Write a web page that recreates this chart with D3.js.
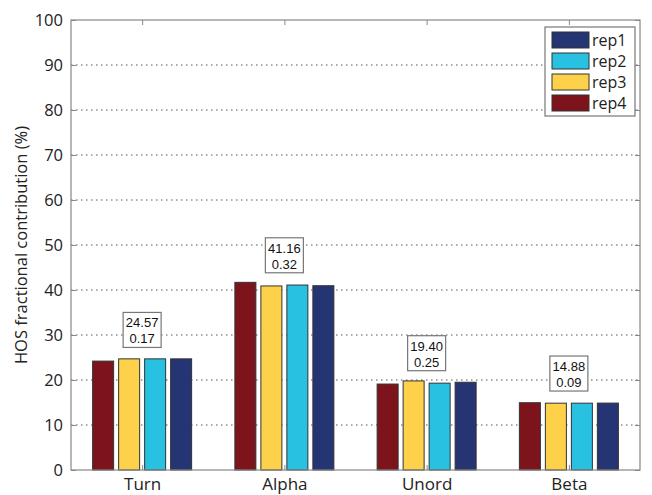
<!DOCTYPE html>
<html><head><meta charset="utf-8">
<script src="https://cdn.jsdelivr.net/npm/d3@7"></script>
<style>body{margin:0;background:#fff}</style>
</head><body>
<svg id="c" width="652" height="495"></svg>
<script>
const categories = ["Turn", "Alpha", "Unord", "Beta"];
const series = ["rep4", "rep3", "rep2", "rep1"];
const rep4 = [24.2, 41.7, 19.1, 14.95];
const rep3 = [24.7, 40.9, 19.8, 14.85];
const rep2 = [24.7, 41.1, 19.3, 14.85];
const rep1 = [24.7, 40.95, 19.5, 14.87];
const means = ["24.57", "41.16", "19.40", "14.88"];
const stds = ["0.17", "0.32", "0.25", "0.09"];
const yTicks = [0, 10, 20, 30, 40, 50, 60, 70, 80, 90, 100];
const legendOrder = ["rep1", "rep2", "rep3", "rep4"];
const colors = {rep1: "#253574", rep2: "#29c1e1", rep3: "#fdd24a", rep4: "#7e141b"};
const values = {rep1, rep2, rep3, rep4};

const svg = d3.select("#c");
const L = 71, R = 640, T = 20, B = 470;
const x = d3.scaleLinear().domain([0.5, 4.5]).range([L, R]);
const y = d3.scaleLinear().domain([0, 100]).range([B, T]);
const font = "'Open Sans', 'DejaVu Sans', sans-serif";

// gridlines
svg.append("g").selectAll("line").data(yTicks.filter(t => t > 0 && t < 100)).join("line")
  .attr("x1", L).attr("x2", R).attr("y1", d => y(d)).attr("y2", d => y(d))
  .attr("stroke", "#555").attr("stroke-width", 1).attr("stroke-dasharray", "1.5,3.5");

// bars
const step = 26, bw = 21;
const off = d3.scaleLinear().domain([0, 3]).range([-1.5 * step, 1.5 * step]);
series.forEach((s, si) => {
  svg.append("g").selectAll("rect").data(values[s]).join("rect")
    .attr("x", (d, i) => x(i + 1) + off(si) - bw / 2)
    .attr("width", bw)
    .attr("y", d => y(d))
    .attr("height", d => y(0) - y(d))
    .attr("fill", colors[s])
    .attr("stroke", "#333").attr("stroke-width", 1);
});

// axes frame
const axisColor = "#888";
svg.append("rect").attr("x", L).attr("y", T).attr("width", R - L).attr("height", B - T)
  .attr("fill", "none").attr("stroke", axisColor).attr("stroke-width", 1.2);

const yAxis = d3.axisLeft(y).tickValues(yTicks).tickSize(-5).tickPadding(8);
const gy = svg.append("g").attr("transform", `translate(${L},0)`).call(yAxis);
gy.select(".domain").remove();
gy.selectAll("line").attr("stroke", axisColor);
gy.selectAll("text").attr("font-family", font).attr("font-size", 16.5).attr("fill", "#222");

const gyr = svg.append("g").attr("transform", `translate(${R},0)`).call(d3.axisRight(y).tickValues(yTicks).tickSize(-5).tickFormat(""));
gyr.select(".domain").remove();
gyr.selectAll("line").attr("stroke", axisColor);

const xAxis = d3.axisBottom(x).tickValues([1, 2, 3, 4]).tickFormat((d) => categories[d - 1]).tickSize(-5).tickPadding(8);
const gx = svg.append("g").attr("transform", `translate(0,${B})`).call(xAxis);
gx.select(".domain").remove();
gx.selectAll("line").attr("stroke", axisColor);
gx.selectAll("text").attr("font-family", font).attr("font-size", 17).attr("fill", "#222");

const gxt = svg.append("g").attr("transform", `translate(0,${T})`).call(d3.axisTop(x).tickValues([1, 2, 3, 4]).tickSize(-5).tickFormat(""));
gxt.select(".domain").remove();
gxt.selectAll("line").attr("stroke", axisColor);

// y label
svg.append("text").attr("transform", `translate(27,${(T + B) / 2}) rotate(-90)`)
  .attr("text-anchor", "middle").attr("font-family", font).attr("font-size", 16.5).attr("fill", "#222")
  .text("HOS fractional contribution (%)");

// annotation boxes
const bwBox = 38, bhBox = 35;
categories.forEach((c, i) => {
  const cx = x(i + 1);
  const yb = y(+means[i]) - 12;
  const g = svg.append("g");
  g.append("rect").attr("x", cx - bwBox / 2).attr("y", yb - bhBox).attr("width", bwBox).attr("height", bhBox)
    .attr("fill", "#fff").attr("stroke", "#777").attr("stroke-width", 1.2);
  g.append("text").attr("x", cx).attr("y", yb - bhBox + 15).attr("text-anchor", "middle")
    .attr("font-family", "'Liberation Sans', Arial, sans-serif").attr("font-size", 13).attr("fill", "#111").text(means[i]);
  g.append("text").attr("x", cx).attr("y", yb - bhBox + 31).attr("text-anchor", "middle")
    .attr("font-family", "'Liberation Sans', Arial, sans-serif").attr("font-size", 13).attr("fill", "#111").text(stds[i]);
});

// legend
const lg = svg.append("g");
lg.append("rect").attr("x", 545).attr("y", 27).attr("width", 90).attr("height", 89)
  .attr("fill", "#fff").attr("stroke", "#777").attr("stroke-width", 1.2);
legendOrder.forEach((s, i) => {
  const yy = 32 + i * 21;
  lg.append("rect").attr("x", 552).attr("y", yy).attr("width", 37).attr("height", 16)
    .attr("fill", colors[s]).attr("stroke", "#333").attr("stroke-width", 1);
  lg.append("text").attr("x", 592).attr("y", yy + 13.5).attr("font-family", font).attr("font-size", 16)
    .attr("fill", "#222").text(s);
});
</script>
</body></html>
